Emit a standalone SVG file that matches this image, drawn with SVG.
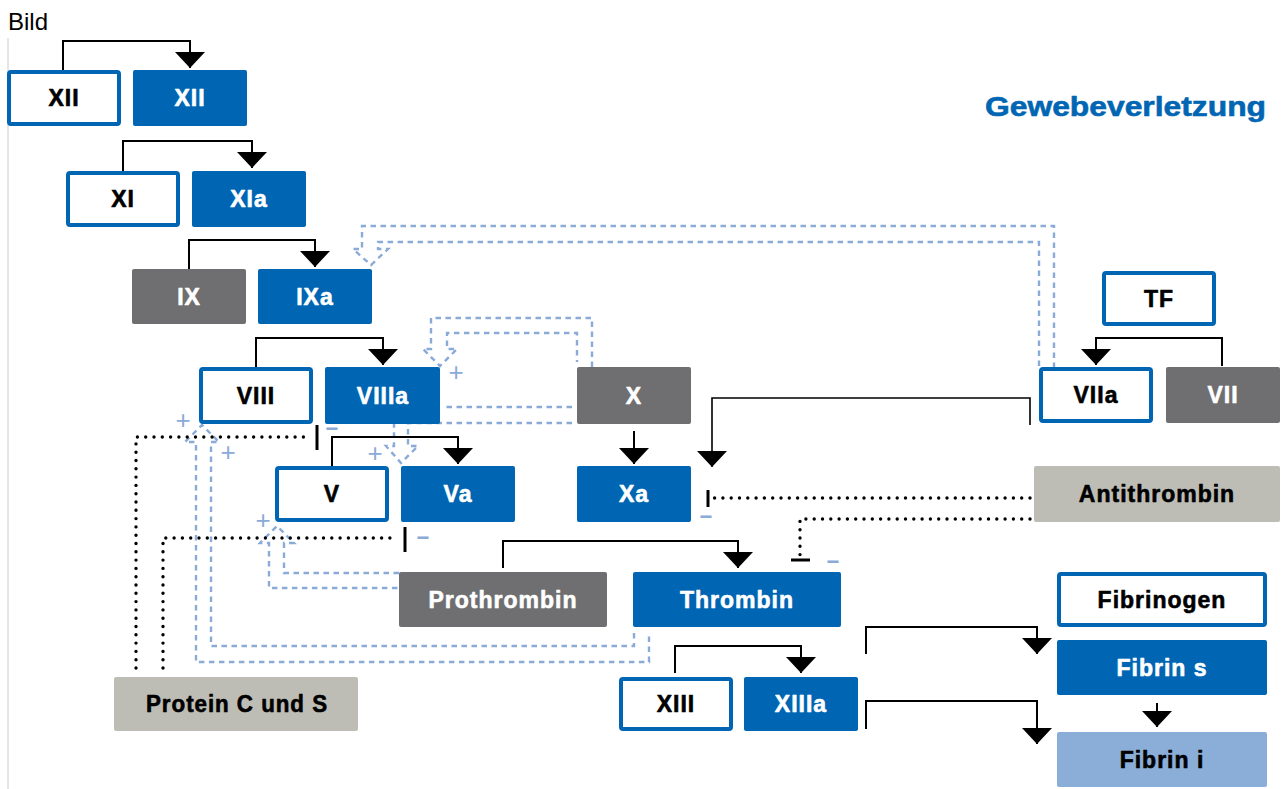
<svg xmlns="http://www.w3.org/2000/svg" width="1282" height="789" viewBox="0 0 1282 789">
<defs>
<style>
.lbl{font-family:"Liberation Sans",Arial,sans-serif;font-weight:bold;font-size:23px;letter-spacing:1px;text-anchor:middle;stroke-width:0.6px;stroke-linejoin:round}
.w{fill:#ffffff;stroke:#ffffff}
.k{fill:#000000;stroke:#000000}
.ob{fill:#ffffff;stroke:#0066b3;stroke-width:4}
.fb{fill:#0066b3}
.gr{fill:#6f6f71}
.lg{fill:#bdbdb6}
.lb{fill:#8aaed8}
.sol{fill:none;stroke:#000;stroke-width:2;marker-end:url(#ah)}
.dot{fill:none;stroke:#000;stroke-width:3.4;stroke-dasharray:0 8.3;stroke-linecap:round}
.bar{stroke:#000;stroke-width:3}
.dsh{fill:none;stroke:#8aaad8;stroke-width:2.4;stroke-dasharray:5.5 4.5}
.pm{font-family:"Liberation Sans",Arial,sans-serif;font-size:26px;fill:#8aaad8;text-anchor:middle}
.mn{font-family:"Liberation Sans",Arial,sans-serif;font-size:22px;font-weight:bold;fill:#8aaad8;text-anchor:middle}
</style>
<marker id="ah" markerUnits="userSpaceOnUse" viewBox="0 0 16 30" refX="16" refY="15" markerWidth="16" markerHeight="30" orient="auto">
<path d="M0,0 L16,15 L0,30 z" fill="#000"/>
</marker>
</defs>
<rect width="1282" height="789" fill="#ffffff"/>
<line x1="8" y1="38" x2="8" y2="789" stroke="#cccccc" stroke-width="1"/>
<text x="8" y="30" style="font-family:'Liberation Sans',Arial,sans-serif;font-size:24px" fill="#000">Bild</text>
<text x="985" y="116" textLength="281" lengthAdjust="spacingAndGlyphs" style="font-family:'Liberation Sans',Arial,sans-serif;font-size:28px;font-weight:bold;stroke:#0066b3;stroke-width:0.6px" fill="#0066b3">Gewebeverletzung</text>

<g id="connectors">
<path class="dsh" d="M1054,368 V226 H362 V249 H353 L371,265 L388,249 H378 V242 H1039 V368"/>
<path class="dsh" d="M592,367 V318 H431 V349 H423 L440,366 L457,349 H447 V333 H577 V362"/>
<path class="dsh" d="M572,407 H443"/>
<path class="dsh" d="M572,423 H408 V446 H418 L401,463 L386,446 H394 V424"/>
<path class="dsh" d="M634,633 V646 H211 V442 H219 L202,425 L185,442 H196 V662 H649 V633"/>
<path class="dsh" d="M399,573 H284 V543 H294 L277,526 L260,543 H269 V588 H399"/>
<path class="sol" d="M63,70 V41 H190 V68"/>
<path class="sol" d="M123,171 V141 H252 V168"/>
<path class="sol" d="M189,269 V240 H315 V267"/>
<path class="sol" d="M256,367 V338 H383 V365"/>
<path class="sol" d="M332,466 V437 H458 V464"/>
<path class="sol" d="M634,431 V464"/>
<path class="sol" style="stroke-width:1.6" d="M1030,425 V398 H712 V467"/>
<path class="sol" d="M503,568 V541 H738 V568"/>
<path class="sol" d="M1222,366 V338 H1096 V365"/>
<path class="sol" d="M675,673 V646 H801 V673"/>
<path class="sol" d="M866,654 V627 H1037 V654"/>
<path class="sol" d="M866,729 V701 H1037 V744"/>
<path class="sol" d="M1157,703 V727"/>
<path class="dot" d="M1030,498 H712"/>
<line class="bar" x1="708" y1="490" x2="708" y2="507"/>
<path class="dot" d="M1030,519 H800 V556"/>
<line class="bar" x1="791" y1="560" x2="810" y2="560"/>
<path class="dot" d="M136,668 V437 H309"/>
<line class="bar" x1="317" y1="425" x2="317" y2="450"/>
<path class="dot" d="M163,668 V538 H398"/>
<line class="bar" x1="405" y1="527" x2="405" y2="552"/>
<text class="pm" x="456" y="381">+</text>
<text class="pm" x="375" y="462">+</text>
<text class="pm" x="183" y="429">+</text>
<text class="pm" x="228" y="461">+</text>
<text class="pm" x="263" y="529">+</text>
<text class="mn" x="332" y="436">−</text>
<text class="mn" x="423" y="545">−</text>
<text class="mn" x="706" y="524">−</text>
<text class="mn" x="833" y="569">−</text>
</g>

<g id="n-XII"><rect class="ob" x="9" y="72" width="110" height="52" rx="2"/><text class="lbl k" x="64" y="106">XII</text></g>
<g id="n-XIIa"><rect class="fb" x="133" y="70" width="114" height="56" rx="2"/><text class="lbl w" x="190" y="106">XII</text></g>
<g id="n-XI"><rect class="ob" x="68" y="173" width="110" height="52" rx="2"/><text class="lbl k" x="123" y="207">XI</text></g>
<g id="n-XIa"><rect class="fb" x="192" y="171" width="114" height="56" rx="2"/><text class="lbl w" x="249" y="207">XIa</text></g>
<g id="n-IX"><rect class="gr" x="132" y="269" width="114" height="55" rx="2"/><text class="lbl w" x="189" y="305">IX</text></g>
<g id="n-IXa"><rect class="fb" x="258" y="269" width="114" height="55" rx="2"/><text class="lbl w" x="315" y="305">IXa</text></g>
<g id="n-VIII"><rect class="ob" x="201" y="369" width="110" height="53" rx="2"/><text class="lbl k" x="256" y="404">VIII</text></g>
<g id="n-VIIIa"><rect class="fb" x="325" y="367" width="115" height="57" rx="2"/><text class="lbl w" x="383" y="404">VIIIa</text></g>
<g id="n-X"><rect class="gr" x="577" y="367" width="114" height="57" rx="2"/><text class="lbl w" x="634" y="404">X</text></g>
<g id="n-V"><rect class="ob" x="277" y="468" width="110" height="52" rx="2"/><text class="lbl k" x="332" y="502">V</text></g>
<g id="n-Va"><rect class="fb" x="401" y="466" width="114" height="56" rx="2"/><text class="lbl w" x="458" y="502">Va</text></g>
<g id="n-Xa"><rect class="fb" x="577" y="466" width="114" height="56" rx="2"/><text class="lbl w" x="634" y="502">Xa</text></g>
<g id="n-Antithrombin"><rect class="lg" x="1034" y="466" width="246" height="56" rx="2"/><text class="lbl k" x="1157" y="502">Antithrombin</text></g>
<g id="n-Prothrombin"><rect class="gr" x="399" y="572" width="208" height="55" rx="2"/><text class="lbl w" x="503" y="608">Prothrombin</text></g>
<g id="n-Thrombin"><rect class="fb" x="633" y="572" width="208" height="55" rx="2"/><text class="lbl w" x="737" y="608">Thrombin</text></g>
<g id="n-ProteinCS"><rect class="lg" x="114" y="677" width="244" height="54" rx="2"/><text class="lbl k" x="237" y="712" textLength="182" lengthAdjust="spacingAndGlyphs">Protein C und S</text></g>
<g id="n-XIII"><rect class="ob" x="621" y="679" width="110" height="50" rx="2"/><text class="lbl k" x="676" y="712">XIII</text></g>
<g id="n-XIIIa"><rect class="fb" x="744" y="677" width="114" height="54" rx="2"/><text class="lbl w" x="801" y="712">XIIIa</text></g>
<g id="n-TF"><rect class="ob" x="1104" y="273" width="110" height="51" rx="2"/><text class="lbl k" x="1159" y="307">TF</text></g>
<g id="n-VIIa"><rect class="ob" x="1041" y="369" width="110" height="52" rx="2"/><text class="lbl k" x="1096" y="403">VIIa</text></g>
<g id="n-VII"><rect class="gr" x="1166" y="367" width="114" height="56" rx="2"/><text class="lbl w" x="1223" y="403">VII</text></g>
<g id="n-Fibrinogen"><rect class="ob" x="1059" y="574" width="206" height="51" rx="2"/><text class="lbl k" x="1162" y="608">Fibrinogen</text></g>
<g id="n-FibrinS"><rect class="fb" x="1057" y="640" width="210" height="55" rx="2"/><text class="lbl w" x="1162" y="676">Fibrin s</text></g>
<g id="n-FibrinI"><rect class="lb" x="1057" y="732" width="210" height="55" rx="2"/><text class="lbl k" x="1162" y="768">Fibrin i</text></g>
</svg>
